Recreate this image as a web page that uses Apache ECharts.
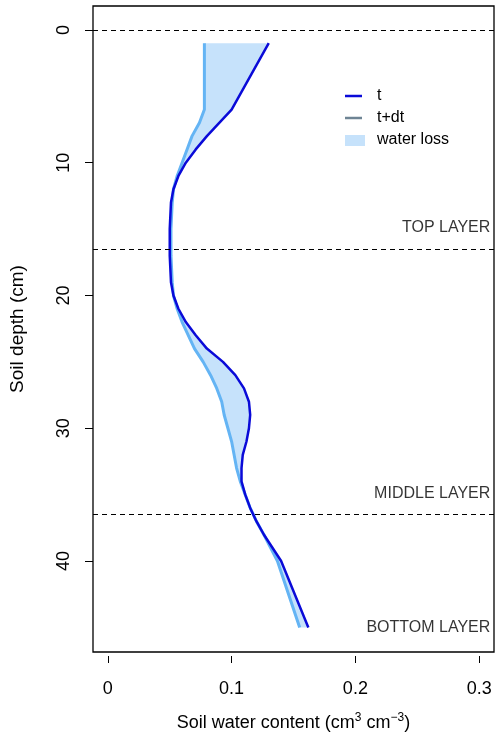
<!DOCTYPE html>
<html><head><meta charset="utf-8">
<script src="https://cdn.jsdelivr.net/npm/echarts@6/dist/echarts.min.js"></script>
<style>html,body{margin:0;background:#fff}#c{width:500px;height:746px}</style>
</head><body><div id="c"></div>
<script>
const depth = [1, 6, 7, 8, 9, 10, 11, 12, 13, 15, 17, 19, 20, 21, 22, 23, 24, 25, 26, 27, 28, 29, 30, 31, 32, 33, 34, 35, 36, 37, 38, 40, 45];
const waterT = [0.130, 0.100, 0.090, 0.080, 0.071, 0.063, 0.057, 0.053, 0.051, 0.050, 0.050, 0.051, 0.053, 0.057, 0.063, 0.071, 0.080, 0.093, 0.103, 0.110, 0.114, 0.115, 0.114, 0.112, 0.109, 0.108, 0.108, 0.111, 0.115, 0.120, 0.126, 0.140, 0.162];
const waterTdt = [0.078, 0.078, 0.074, 0.068, 0.064, 0.060, 0.056, 0.053, 0.052, 0.051, 0.051, 0.052, 0.053, 0.056, 0.060, 0.065, 0.070, 0.077, 0.083, 0.088, 0.092, 0.094, 0.097, 0.100, 0.102, 0.104, 0.107, 0.111, 0.115, 0.120, 0.126, 0.137, 0.155];
const layerBounds = [0, 16.5, 36.5];
const layerLabels = [['TOP LAYER', 14.9], ['MIDDLE LAYER', 34.9], ['BOTTOM LAYER', 45]];
const xTicks = [0, 0.1, 0.2, 0.3];
const yTicks = [0, 10, 20, 30, 40];

const font = 'Liberation Sans, Arial, sans-serif';
const chart = echarts.init(document.getElementById('c'));
const pts = a => a.map((v, i) => [v, depth[i]]);

chart.setOption({
  animation: false,
  grid: { left: 89, top: 6, width: 405, height: 646, show: true, borderColor: '#000', borderWidth: 1.3 },
  xAxis: {
    type: 'value', min: -0.012, max: 0.312, offset: 4,
    axisLine: { show: false, onZero: false }, splitLine: { show: false },
    axisTick: { show: true, length: 7, lineStyle: { color: '#000' }, customValues: xTicks },
    axisLabel: { customValues: xTicks, margin: 24, fontSize: 18, color: '#000', fontFamily: font, formatter: v => String(+v.toFixed(1)) },
    name: '{a|Soil water content (cm}{s|3}{a| cm}{s|−3}{a|)}', nameLocation: 'middle', nameGap: 56,
    nameTextStyle: { rich: { a: { fontSize: 18, color: '#000', fontFamily: font }, s: { fontSize: 12, color: '#000', fontFamily: font, verticalAlign: 'top', padding: [0, 0, 10, 0] } } }
  },
  yAxis: {
    type: 'value', inverse: true, min: -1.8, max: 46.85,
    axisLine: { show: false, onZero: false }, splitLine: { show: false },
    axisTick: { show: true, length: 8, lineStyle: { color: '#000' }, customValues: yTicks },
    axisLabel: { customValues: yTicks, rotate: 90, margin: 20, fontSize: 18, color: '#000', fontFamily: font },
    name: 'Soil depth (cm)', nameLocation: 'middle', nameGap: 66, nameRotate: 90,
    nameTextStyle: { fontSize: 19, color: '#000', fontFamily: font }
  },
  series: [
    {
      type: 'custom', silent: true, z: 1,
      data: [0],
      renderItem: (params, api) => {
        const poly = pts(waterT).concat(pts(waterTdt).reverse()).map(p => api.coord(p));
        return { type: 'polygon', shape: { points: poly }, style: { fill: '#c6e2fb' } };
      }
    },
    {
      type: 'line', data: pts(waterTdt), symbol: 'none', z: 3,
      lineStyle: { color: '#64b4f4', width: 3 }
    },
    {
      type: 'line', data: pts(waterT), symbol: 'none', z: 4,
      lineStyle: { color: '#0a0ad8', width: 2.5 },
      markLine: {
        silent: true, symbol: 'none', label: { show: false },
        lineStyle: { color: '#000', type: [5, 4], width: 1 },
        data: layerBounds.map(v => ({ yAxis: v }))
      }
    },
    {
      type: 'scatter', symbolSize: 0, data: layerLabels.map(l => [0.309, l[1], l[0]]),
      label: { show: true, position: 'left', distance: 0, formatter: p => p.data[2], fontSize: 16, color: '#000', fontFamily: font }
    }
  ],
  graphic: [
    { type: 'line', shape: { x1: 345, y1: 96, x2: 362, y2: 96 }, style: { stroke: '#0a0ad8', lineWidth: 2.5 } },
    { type: 'line', shape: { x1: 345, y1: 118, x2: 362, y2: 118 }, style: { stroke: '#6e8494', lineWidth: 2.5 } },
    { type: 'rect', shape: { x: 345, y: 135, width: 20, height: 11 }, style: { fill: '#c6e2fb' } },
    { type: 'text', x: 377, y: 96, style: { text: 't', fontSize: 16, fontFamily: font, fill: '#000', verticalAlign: 'middle' } },
    { type: 'text', x: 377, y: 118, style: { text: 't+dt', fontSize: 16, fontFamily: font, fill: '#000', verticalAlign: 'middle' } },
    { type: 'text', x: 377, y: 140, style: { text: 'water loss', fontSize: 16, fontFamily: font, fill: '#000', verticalAlign: 'middle' } }
  ]
});
</script></body></html>
